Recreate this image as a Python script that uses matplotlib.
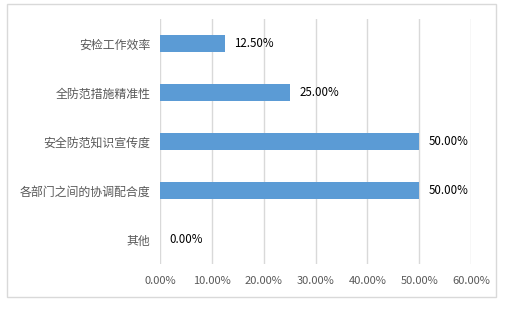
import matplotlib
matplotlib.use("Agg")
import matplotlib.pyplot as plt
from matplotlib.patches import Rectangle
from matplotlib.ticker import FuncFormatter

plt.rcParams['font.family'] = ['Noto Sans CJK SC', 'DejaVu Sans']

categories = ["安检工作效率", "全防范措施精准性", "安全防范知识宣传度", "各部门之间的协调配合度", "其他"]
values = [12.5, 25.0, 50.0, 50.0, 0.0]
xticks = [0, 10, 20, 30, 40, 50, 60]

fig = plt.figure(figsize=(5.1, 3.1), dpi=100)
fig.patches.append(Rectangle((7/510, 1-297/310), 489/510, 293/310, transform=fig.transFigure,
                             fill=False, edgecolor='#D9D9D9', linewidth=1))
ax = fig.add_axes([160/510, 1-264/310, 311/510, 245/310])

y = list(range(len(categories)))
ax.barh(y, values, height=0.33, color='#5B9BD5', zorder=3)
ax.set_ylim(len(categories)-0.5, -0.5)
ax.set_xlim(0, 60)
ax.set_xticks(xticks)
ax.xaxis.set_major_formatter(FuncFormatter(lambda v, p: f"{v:.2f}%"))
ax.set_yticks(y)
ax.set_yticklabels(categories, fontsize=8.6)
for s in ax.spines.values():
    s.set_visible(False)
ax.grid(axis='x', color='#D9D9D9', linewidth=1, zorder=0)
ax.tick_params(axis='both', length=0, colors='#595959')
ax.tick_params(axis='x', pad=8.5, labelsize=8)
ax.tick_params(axis='y', pad=7)
for yi, v in zip(y, values):
    ax.annotate(f"{v:.2f}%", xy=(v, yi), xytext=(7, 0), textcoords='offset points',
                va='center', ha='left', fontsize=8.3, color='#000000')

fig.savefig("out.png", dpi=100)
